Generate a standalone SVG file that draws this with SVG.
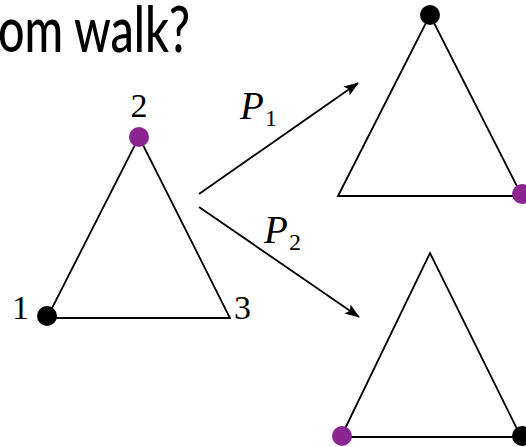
<svg xmlns="http://www.w3.org/2000/svg" width="526" height="447" viewBox="0 0 526 447">
<defs>
<style>
.edge{fill:none;stroke:#000;stroke-width:1.8;stroke-linejoin:miter}
.conn{fill:none;stroke:#000;stroke-width:1.8}
.purple{fill:#8B2592}
.black{fill:#000}
.num{font-family:"Liberation Serif","DejaVu Serif",serif;font-size:34px;fill:#000}
.lab{font-family:"Liberation Serif","DejaVu Serif",serif;font-size:39px;font-style:italic;fill:#000}
.sub{font-family:"Liberation Serif","DejaVu Serif",serif;font-size:24px;fill:#000}
.title{font-family:Lato,"Open Sans","Liberation Sans",sans-serif;font-size:64px;font-weight:500;fill:#000}
</style>
<marker id="arr" markerUnits="userSpaceOnUse" markerWidth="16" markerHeight="12" refX="14" refY="5.5" orient="auto">
<path d="M0,0 L15,5.5 L0,11 L3,5.5 z" fill="#000"/>
</marker>
</defs>
<text class="title" x="-2" y="52" textLength="192" lengthAdjust="spacingAndGlyphs">om walk?</text>
<g id="connectors">
<line class="conn" x1="199" y1="194" x2="358" y2="83" marker-end="url(#arr)"/>
<line class="conn" x1="199" y1="207" x2="359" y2="317" marker-end="url(#arr)"/>
<g id="label-P1"><text class="lab" x="240" y="119">P</text><text class="sub" x="265" y="126">1</text></g>
<g id="label-P2"><text class="lab" x="264" y="243">P</text><text class="sub" x="289" y="250">2</text></g>
</g>
<g id="graph-left">
<polygon class="edge" points="47,318 139,137 230,318"/>
<circle class="purple" cx="139" cy="137" r="10"/>
<circle class="black" cx="47" cy="316" r="10"/>
<text class="num" x="139" y="117" text-anchor="middle">2</text>
<text class="num" x="12" y="319">1</text>
<text class="num" x="234" y="319">3</text>
</g>
<g id="graph-top">
<polygon class="edge" points="338,196 430,15 522,196"/>
<circle class="black" cx="430" cy="15" r="10"/>
<circle class="purple" cx="522" cy="194" r="10"/>
</g>
<g id="graph-bottom">
<polygon class="edge" points="341,437 430,253 521,437"/>
<circle class="purple" cx="342" cy="436" r="10"/>
<circle class="black" cx="522" cy="436" r="10"/>
</g>
</svg>
